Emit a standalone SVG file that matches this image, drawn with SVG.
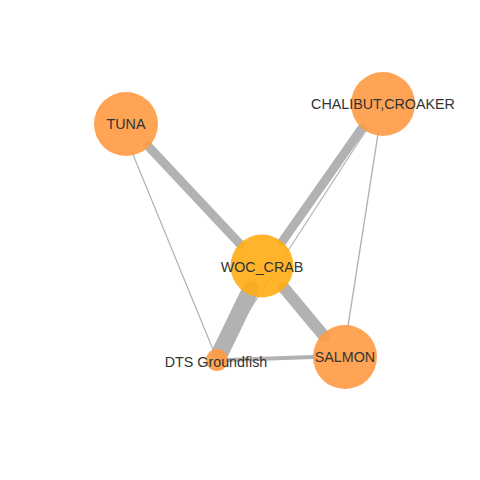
<svg xmlns="http://www.w3.org/2000/svg" width="480" height="480" viewBox="0 0 480 480">
  <style>
    .edge { stroke: #b2b2b2; stroke-linecap: round; fill: none; }
    .node { fill: #ff9a42; fill-opacity: 0.9; }
    .hub { fill: #ffac14; fill-opacity: 0.9; }
    .label { font-family: "Liberation Sans", Arial, sans-serif; font-size: 14.3px; fill: #333333; text-anchor: middle; dominant-baseline: central; }
  </style>
  <rect width="480" height="480" fill="#ffffff"/>
  <g id="edges">
    <!-- thin links -->
    <line class="edge" x1="132" y1="152" x2="214" y2="352" stroke-width="1.2"/>
    <line class="edge" x1="367" y1="129" x2="219" y2="357" stroke-width="1.2"/>
    <line class="edge" x1="378" y1="134" x2="348" y2="326" stroke-width="1.4"/>
    <!-- heavy links -->
    <line class="edge" x1="148" y1="146" x2="240" y2="244" stroke-width="9"/>
    <line class="edge" x1="362" y1="128" x2="282" y2="242" stroke-width="9"/>
    <line class="edge" x1="284" y1="288" x2="324" y2="336" stroke-width="12"/>
    <line class="edge" x1="251" y1="289" x2="220" y2="353" stroke-width="17"/>
    <line class="edge" x1="226" y1="360" x2="314" y2="357" stroke-width="4.2"/>
  </g>
  <g id="node-tuna">
    <circle class="node" cx="126" cy="124" r="32"/>
    <text class="label" x="126" y="123.5">TUNA</text>
  </g>
  <g id="node-chalibut-croaker">
    <circle class="node" cx="383" cy="104" r="32"/>
    <text class="label" x="383" y="103.5">CHALIBUT,CROAKER</text>
  </g>
  <g id="node-woc-crab">
    <circle class="hub" cx="262" cy="266" r="31.5"/>
    <text class="label" x="262" y="266.5">WOC_CRAB</text>
  </g>
  <g id="node-salmon">
    <circle class="node" cx="345" cy="357" r="32"/>
    <text class="label" x="345" y="357">SALMON</text>
  </g>
  <g id="node-dts-groundfish">
    <circle class="node" cx="217" cy="360" r="11"/>
    <text class="label" x="216" y="362">DTS Groundfish</text>
  </g>
</svg>
